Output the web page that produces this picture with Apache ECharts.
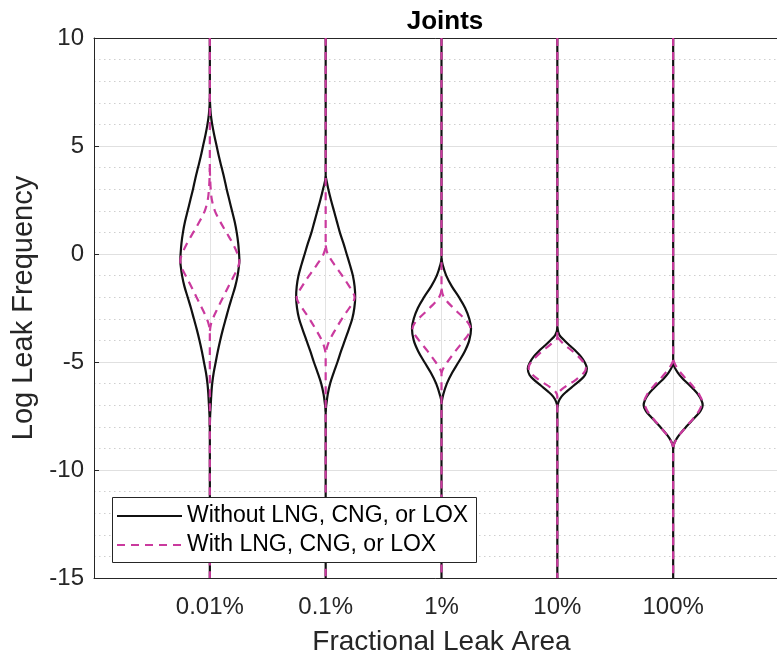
<!DOCTYPE html>
<html>
<head>
<meta charset="utf-8">
<script src="https://cdn.jsdelivr.net/npm/echarts@6/dist/echarts.min.js"></script>
<style>
  html, body { margin: 0; padding: 0; background: #fff; }
  #chart { width: 777px; height: 659px; }
</style>
</head>
<body>
<div id="chart"></div>
<script>
// Category labels along the x axis (violins sit at x = 1..5)
const categories = ['0.01%', '0.1%', '1%', '10%', '100%'];

// Violin outlines: [log leak frequency, relative density (peak = 1)]
// "Without LNG, CNG, or LOX"
const without001 = [[7.2,0],[6.5,0.03],[6,0.08],[5.5,0.15],[5,0.23],[4.5,0.31],[4,0.40],[3.5,0.49],[3,0.57],[2.5,0.66],[2,0.75],[1.5,0.84],[1,0.91],[0.5,0.96],[0,0.99],[-0.3,1.0],[-0.5,0.99],[-1,0.94],[-1.5,0.86],[-2,0.75],[-2.5,0.64],[-3,0.54],[-3.5,0.44],[-4,0.35],[-4.5,0.27],[-5,0.2],[-5.5,0.13],[-6,0.08],[-6.5,0.05],[-7,0.03],[-7.5,0.01],[-8,0]];
const without01  = [[3.6,0],[3,0.09],[2.5,0.18],[2,0.28],[1.5,0.38],[1,0.48],[0.5,0.6],[0,0.71],[-0.5,0.82],[-1,0.92],[-1.5,0.98],[-2,1.0],[-2.5,0.97],[-3,0.9],[-3.5,0.78],[-4,0.65],[-4.5,0.52],[-5,0.4],[-5.5,0.27],[-6,0.15],[-6.5,0.07],[-7,0.02],[-7.3,0]];
const without1   = [[-0.2,0],[-0.5,0.04],[-1,0.16],[-1.5,0.35],[-2,0.59],[-2.5,0.8],[-3,0.94],[-3.45,1.0],[-4,0.94],[-4.5,0.79],[-5,0.58],[-5.5,0.36],[-6,0.18],[-6.5,0.06],[-6.9,0]];
const without10  = [[-3.4,0],[-3.75,0.07],[-4,0.24],[-4.25,0.43],[-4.5,0.63],[-4.75,0.8],[-5,0.92],[-5.3,1.0],[-5.6,0.94],[-5.85,0.77],[-6.1,0.55],[-6.35,0.33],[-6.6,0.14],[-6.85,0.04],[-7.1,0]];
const without100 = [[-5,0],[-5.25,0.05],[-5.5,0.16],[-5.75,0.31],[-6,0.5],[-6.25,0.68],[-6.5,0.84],[-6.75,0.95],[-7,1.0],[-7.25,0.93],[-7.5,0.78],[-7.75,0.61],[-8,0.44],[-8.25,0.28],[-8.5,0.14],[-8.75,0.04],[-9,0]];

// "With LNG, CNG, or LOX"
const with001 = [[4,0],[3.5,0.01],[3,0.03],[2.5,0.07],[2,0.17],[1.5,0.35],[1,0.56],[0.5,0.77],[0,0.94],[-0.3,1.0],[-0.6,0.96],[-1,0.82],[-1.5,0.63],[-2,0.45],[-2.5,0.27],[-3,0.1],[-3.3,0.03],[-3.6,0]];
const with01  = [[0.4,0],[0,0.07],[-0.5,0.3],[-1,0.56],[-1.5,0.8],[-1.8,0.93],[-2,0.98],[-2.2,0.94],[-2.5,0.8],[-3,0.55],[-3.5,0.33],[-4,0.13],[-4.4,0.03],[-4.7,0]];
const with1   = [[-1.6,0],[-2,0.08],[-2.5,0.4],[-3,0.78],[-3.25,0.93],[-3.45,0.98],[-3.7,0.92],[-4,0.76],[-4.5,0.47],[-5,0.2],[-5.3,0.06],[-5.5,0]];
const with10  = [[-3.85,0],[-4.15,0.2],[-4.6,0.6],[-5,0.88],[-5.25,0.97],[-5.5,0.9],[-5.85,0.6],[-6.17,0.24],[-6.4,0.05],[-6.6,0]];
const with100 = [[-4.9,0],[-5.25,0.12],[-5.68,0.37],[-6.14,0.68],[-6.5,0.88],[-6.85,0.98],[-7.2,0.9],[-7.5,0.75],[-8,0.44],[-8.45,0.17],[-8.8,0.03],[-9,0]];

const withoutProfiles = [without001, without01, without1, without10, without100];
const withProfiles = [with001, with01, with1, with10, with100];

const NAME_WITHOUT = 'Without LNG, CNG, or LOX';
const NAME_WITH = 'With LNG, CNG, or LOX';

const Y_MIN = -15, Y_MAX = 10;
const HALF_WIDTH = 0.255;   // violin half-width at peak density, in category units

// Left side runs the full axis height (the density tails collapse onto the
// centre line); the right side only covers the bulge.
function violinSides(center, profile) {
  const left = [[center, Y_MAX]];
  const right = [];
  profile.forEach(([v, d]) => {
    left.push([center - d * HALF_WIDTH, v]);
    right.push([center + d * HALF_WIDTH, v]);
  });
  left.push([center, Y_MIN]);
  return [left, right];
}

function makeSeries(name, profiles, lineStyle, z) {
  const out = [];
  profiles.forEach((p, i) => {
    violinSides(i + 1, p).forEach(side => {
      out.push({
        name, type: 'line', data: side, symbol: 'none', smooth: 0.35,
        lineStyle, itemStyle: { color: lineStyle.color },
        z, silent: true, clip: true
      });
    });
  });
  return out;
}

const blackStyle = { color: '#111111', width: 2.2, type: 'solid' };
const pinkStyle = { color: '#CA3A9E', width: 2.2, type: [8, 6] };

const series = [].concat(
  makeSeries(NAME_WITHOUT, withoutProfiles, blackStyle, 3),
  makeSeries(NAME_WITH, withProfiles, pinkStyle, 4)
);

const FONT = '"Liberation Sans", Arial, Helvetica, sans-serif';
const AXIS_COLOR = '#262626';

// Legend key on its own canvas layer so its white box hides the violin lines
const KEY = { x: 112.5, y: 497.5, w: 364, h: 65, row1: 516, row2: 545, lineX0: 117, lineX1: 182, textX: 187 };
const keyLayer = { zlevel: 1, z: 100 };
const keyElements = [
  Object.assign({ type: 'rect', silent: true,
    shape: { x: KEY.x, y: KEY.y, width: KEY.w, height: KEY.h },
    style: { fill: '#ffffff', stroke: AXIS_COLOR, lineWidth: 1 } }, keyLayer),
  Object.assign({ type: 'line', silent: true,
    shape: { x1: KEY.lineX0, y1: KEY.row1, x2: KEY.lineX1, y2: KEY.row1 },
    style: { stroke: blackStyle.color, lineWidth: blackStyle.width } }, keyLayer),
  Object.assign({ type: 'line', silent: true,
    shape: { x1: KEY.lineX0, y1: KEY.row2, x2: KEY.lineX1, y2: KEY.row2 },
    style: { stroke: pinkStyle.color, lineWidth: pinkStyle.width, lineDash: pinkStyle.type } }, keyLayer),
  Object.assign({ type: 'text', silent: true, x: KEY.textX, y: KEY.row1,
    style: { text: NAME_WITHOUT, font: '23px ' + FONT, fill: '#000', verticalAlign: 'middle', align: 'left' } }, keyLayer),
  Object.assign({ type: 'text', silent: true, x: KEY.textX, y: KEY.row2,
    style: { text: NAME_WITH, font: '23px ' + FONT, fill: '#000', verticalAlign: 'middle', align: 'left' } }, keyLayer)
];

const chart = echarts.init(document.getElementById('chart'), null, { renderer: 'canvas' });
chart.setOption({
  animation: false,
  backgroundColor: '#ffffff',
  color: ['#111111', '#CA3A9E'],
  title: {
    text: 'Joints',
    left: 440, top: 4, textAlign: 'center',
    textStyle: { fontFamily: FONT, fontSize: 26, fontWeight: 'bold', color: '#000' }
  },
  graphic: { zlevel: 1, z: 100, elements: keyElements },
  grid: { left: 94, top: 38, width: 695, height: 540, containLabel: false, outerBoundsMode: 'none' },
  xAxis: [{
    type: 'value', min: 0, max: 6, interval: 1,
    name: 'Fractional Leak Area', nameLocation: 'middle', nameGap: 50,
    nameTextStyle: { fontFamily: FONT, fontSize: 28, color: AXIS_COLOR },
    axisLine: { show: true, onZero: false, lineStyle: { color: AXIS_COLOR, width: 1 } },
    axisTick: { show: true, inside: true, length: 5, lineStyle: { color: AXIS_COLOR } },
    axisLabel: {
      fontFamily: FONT, fontSize: 24, color: AXIS_COLOR, margin: 17,
      formatter: v => categories[v - 1] || ''
    },
    splitLine: { show: true, lineStyle: { color: '#e3e3e3', width: 1 } }
  }, {
    type: 'value', min: 0, max: 6, interval: 1, position: 'top',
    axisLine: { show: true, onZero: false, lineStyle: { color: AXIS_COLOR, width: 1 } },
    axisTick: { show: false }, axisLabel: { show: false }, splitLine: { show: false }
  }],
  yAxis: [{
    type: 'value', min: Y_MIN, max: Y_MAX, interval: 5,
    name: 'Log Leak Frequency', nameLocation: 'middle', nameGap: 48,
    nameTextStyle: { fontFamily: FONT, fontSize: 29, color: AXIS_COLOR },
    axisLine: { show: true, onZero: false, lineStyle: { color: AXIS_COLOR, width: 1 } },
    axisTick: { show: true, inside: true, length: 5, lineStyle: { color: AXIS_COLOR } },
    axisLabel: { fontFamily: FONT, fontSize: 24, color: AXIS_COLOR, margin: 10 },
    minorTick: { show: false, splitNumber: 5 },
    splitLine: { show: true, lineStyle: { color: '#e0e0e0', width: 1 } },
    minorSplitLine: { show: true, lineStyle: { color: '#cfcfcf', width: 1, type: [1.5, 3.5] } }
  }, {
    type: 'value', min: Y_MIN, max: Y_MAX, interval: 5, position: 'right',
    axisLine: { show: true, onZero: false, lineStyle: { color: AXIS_COLOR, width: 1 } },
    axisTick: { show: false }, axisLabel: { show: false }, splitLine: { show: false }
  }],
  series: series
});
</script>
</body>
</html>
